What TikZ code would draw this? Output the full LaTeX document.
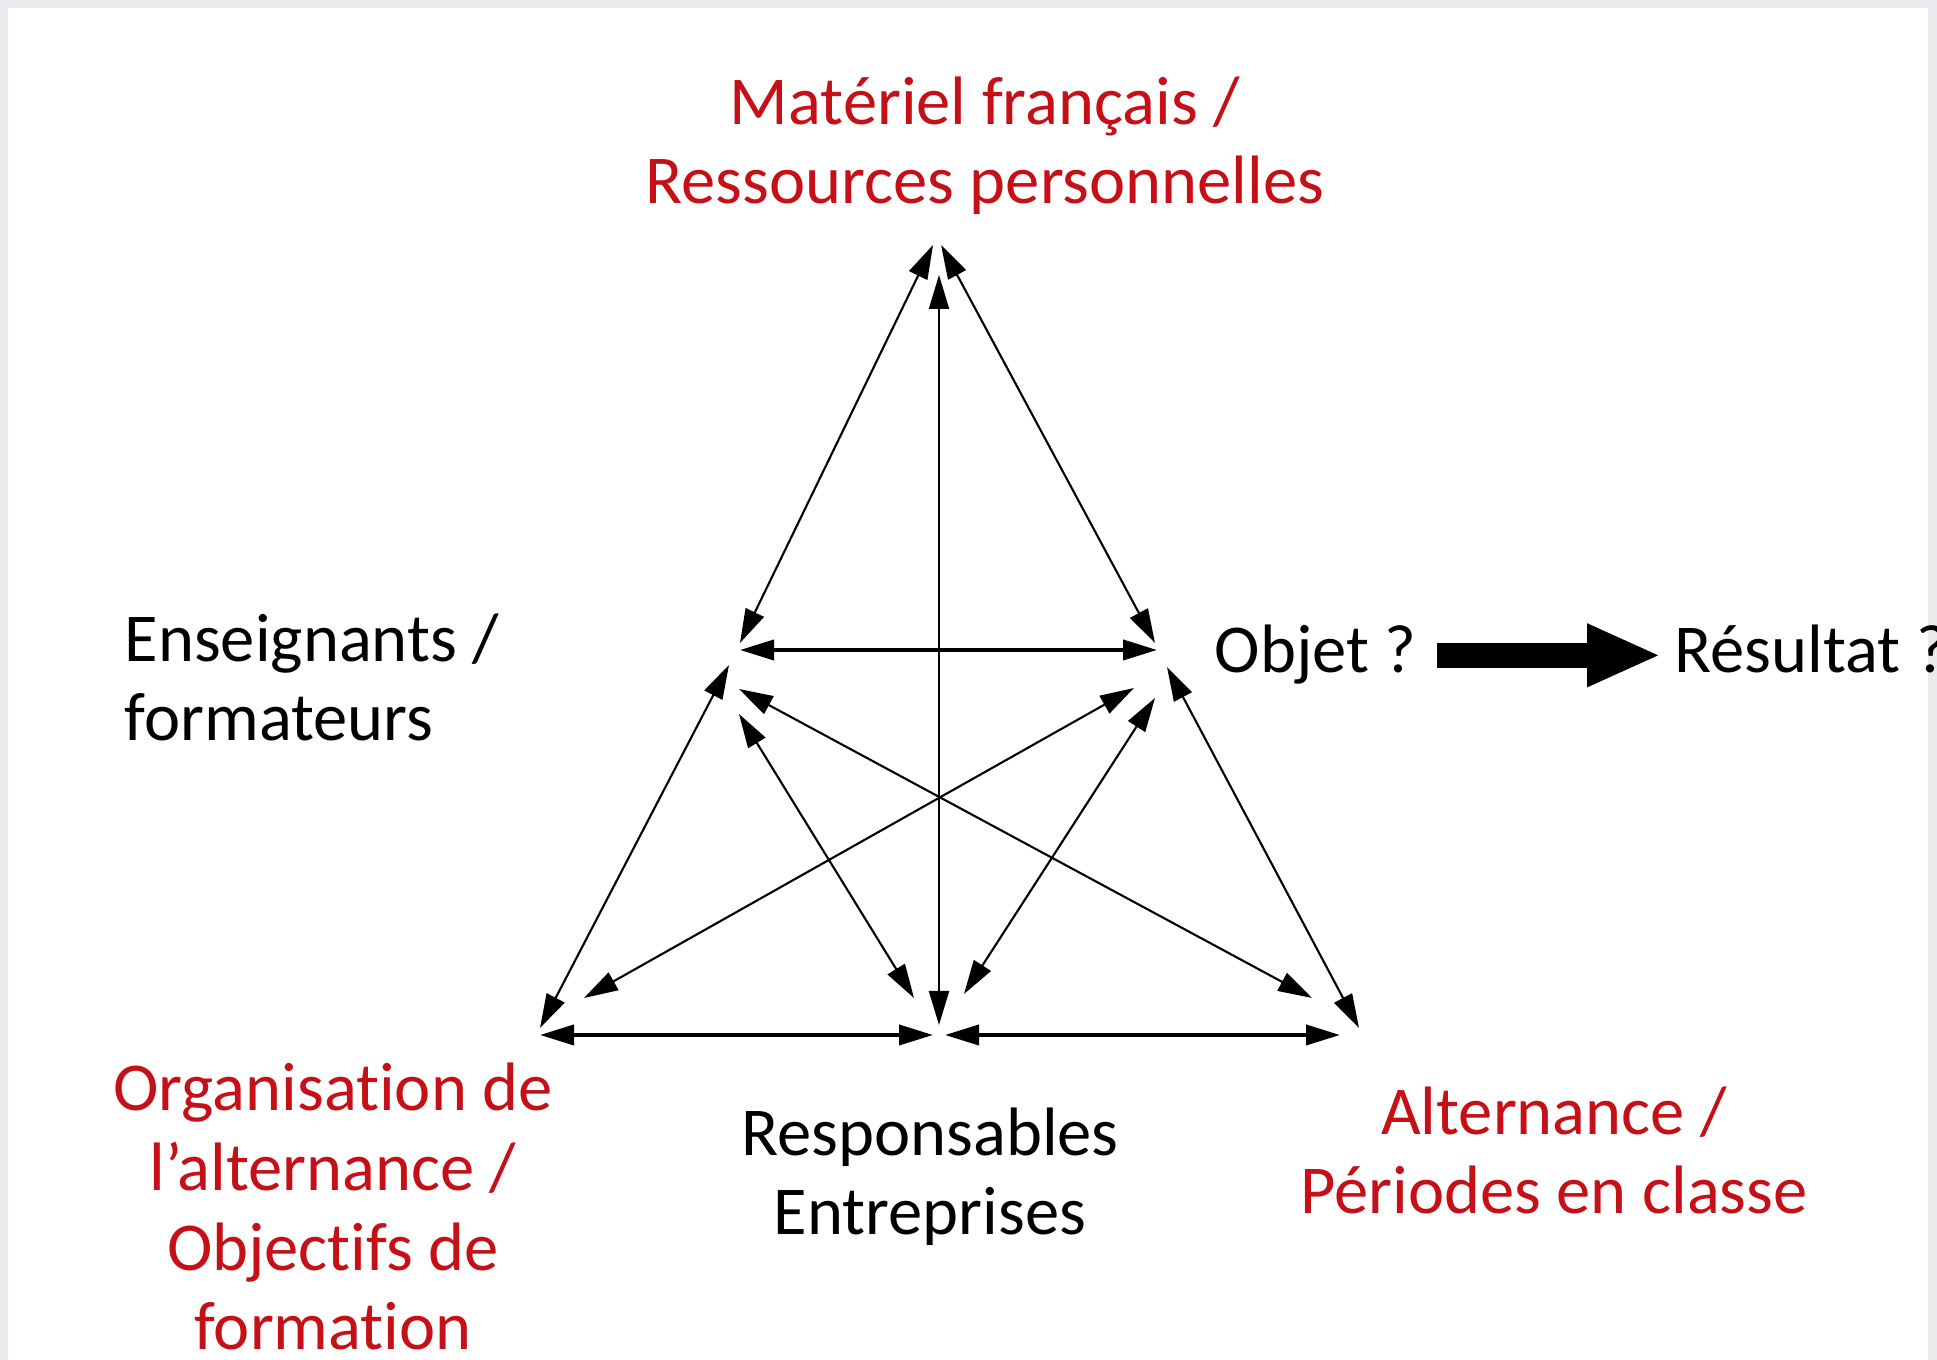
\documentclass[tikz,border=0pt]{standalone}
\usepackage{fontspec}
\setmainfont{Carlito}[Ligatures=NoCommon]
\usepackage{xcolor}
\usetikzlibrary{arrows.meta}
\definecolor{rouge}{RGB}{196,16,22}
\definecolor{cadre}{RGB}{233,234,238}
\tikzset{
    lien/.style={{Triangle[length=3.4mm,width=2mm]}-{Triangle[length=3.4mm,width=2mm]}, line width=0.6pt},
    lienfort/.style={lien, line width=1.1pt},
    etiq/.style={font=\fontsize{19.5}{22.7}\selectfont, inner sep=0pt, align=center},
    pole/.style={etiq, text=rouge},
    mot/.style={etiq, text height=0.8em, text depth=0.25em},
    grossefleche/.style={line width=0.25cm, -{Triangle[length=7.4mm,width=5.8mm]}}
}

\begin{document}
\begin{tikzpicture}
    \useasboundingbox (0,0) rectangle (19.37,13.60);
    \fill[cadre] (0,0) rectangle (19.37,13.60);
    \fill[white] (0.08,0) rectangle (19.28,13.52);

    \node[pole, anchor=base] (materiel) at (9.85,11.56) {Matériel français /\\Ressources personnelles};
    \node[etiq, anchor=base west, align=left] (enseignants) at (1.24,6.19) {Enseignants /\\formateurs};
    \node[mot, anchor=base west] (objet) at (12.14,6.87) {Objet ?};
    \node[mot, anchor=base west] (resultat) at (16.74,6.87) {Résultat ?};
    \node[pole, anchor=base] (organisation) at (3.33,0.10) {Organisation de\\l’alternance /\\ Objectifs de\\formation};
    \node[etiq, anchor=base] (responsables) at (9.30,1.25) {Responsables\\Entreprises};
    \node[pole, anchor=base] (alternance) at (15.54,1.46) {Alternance /\\Périodes en classe};

    \coordinate (haut-g) at (9.33,11.15);
    \coordinate (haut-d) at (9.41,11.15);
    \coordinate (haut-v) at (9.39,10.85);
    \coordinate (ens-h) at (7.40,7.17);
    \coordinate (ens-m) at (7.40,7.10);
    \coordinate (ens-1) at (7.29,6.95);
    \coordinate (ens-2) at (7.39,6.71);
    \coordinate (ens-3) at (7.39,6.46);
    \coordinate (obj-h) at (11.55,7.17);
    \coordinate (obj-m) at (11.57,7.10);
    \coordinate (obj-1) at (11.67,6.93);
    \coordinate (obj-2) at (11.34,6.72);
    \coordinate (obj-3) at (11.55,6.62);
    \coordinate (org-1) at (5.40,3.32);
    \coordinate (org-2) at (5.84,3.62);
    \coordinate (org-b) at (5.40,3.25);
    \coordinate (resp-1) at (9.14,3.62);
    \coordinate (resp-2) at (9.64,3.66);
    \coordinate (resp-v) at (9.39,3.35);
    \coordinate (resp-g) at (9.33,3.25);
    \coordinate (resp-d) at (9.45,3.25);
    \coordinate (alt-1) at (13.59,3.32);
    \coordinate (alt-2) at (13.12,3.62);
    \coordinate (alt-b) at (13.40,3.25);

    \draw[lien] (haut-g) -- (ens-h);
    \draw[lien] (haut-d) -- (obj-h);
    \draw[lien] (haut-v) -- (resp-v);
    \draw[lienfort] (ens-m) -- (obj-m);
    \draw[lien] (ens-1) -- (org-1);
    \draw[lien] (ens-2) -- (alt-2);
    \draw[lien] (ens-3) -- (resp-1);
    \draw[lien] (obj-1) -- (alt-1);
    \draw[lien] (obj-2) -- (org-2);
    \draw[lien] (obj-3) -- (resp-2);
    \draw[lienfort] (org-b) -- (resp-g);
    \draw[lienfort] (resp-d) -- (alt-b);

    \draw[grossefleche] ([xshift=0.2cm,yshift=0.08cm]objet.east) -- ([xshift=-0.13cm,yshift=0.08cm]resultat.west);
\end{tikzpicture}
\end{document}
